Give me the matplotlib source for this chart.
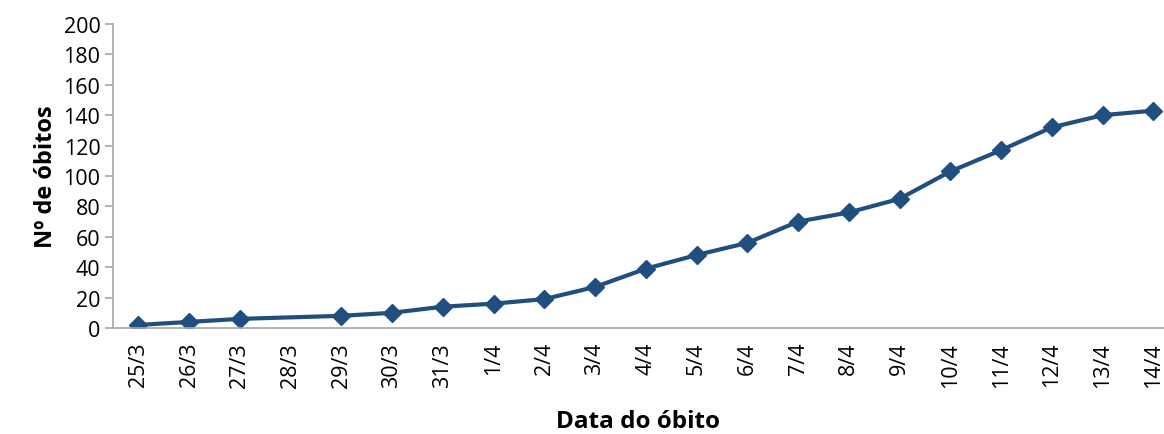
import numpy as np
import matplotlib
matplotlib.use('Agg')
import matplotlib.pyplot as plt

plt.rcParams['font.family'] = ['Open Sans', 'DejaVu Sans']

dates = ['25/3', '26/3', '27/3', '28/3', '29/3', '30/3', '31/3', '1/4', '2/4', '3/4',
         '4/4', '5/4', '6/4', '7/4', '8/4', '9/4', '10/4', '11/4', '12/4', '13/4', '14/4']
# no value reported for 28/3
obitos = [2, 4, 6, None, 8, 10, 14, 16, 19, 27,
          39, 48, 56, 70, 76, 85, 103, 117, 132, 140, 143]

xs = [i for i, v in enumerate(obitos) if v is not None]
ys = [v for v in obitos if v is not None]

fig = plt.figure(figsize=(11.64, 4.35), dpi=100)
ax = fig.add_axes([0.097, 0.2437, 0.903, 0.6988])

ax.plot(xs, ys, color='#1f4e7f', lw=3, marker='D', ms=9.5, mec='#1f4e7f', mfc='#1f4e7f')

ax.set_xlim(-0.5, 20.21)
ax.set_ylim(0, 200)
ax.set_yticks(np.arange(0, 201, 20))
ax.set_xticks(range(len(dates)))
ax.set_xticklabels(dates, rotation=90)

for s in ['top', 'right']:
    ax.spines[s].set_visible(False)
for s in ['left', 'bottom']:
    ax.spines[s].set_color('#a6a6a6')
    ax.spines[s].set_linewidth(1.2)
ax.tick_params(axis='y', colors='#a6a6a6', labelcolor='black', labelsize=15.5, length=6, width=1.2, pad=3)
ax.tick_params(axis='x', length=0, labelsize=15.5, pad=10)

ax.set_ylabel('Nº de óbitos', fontsize=17, fontweight='bold', labelpad=4)
ax.set_xlabel('Data do óbito', fontsize=17.5, fontweight='bold', labelpad=16)

fig.savefig('out.png', dpi=100)
